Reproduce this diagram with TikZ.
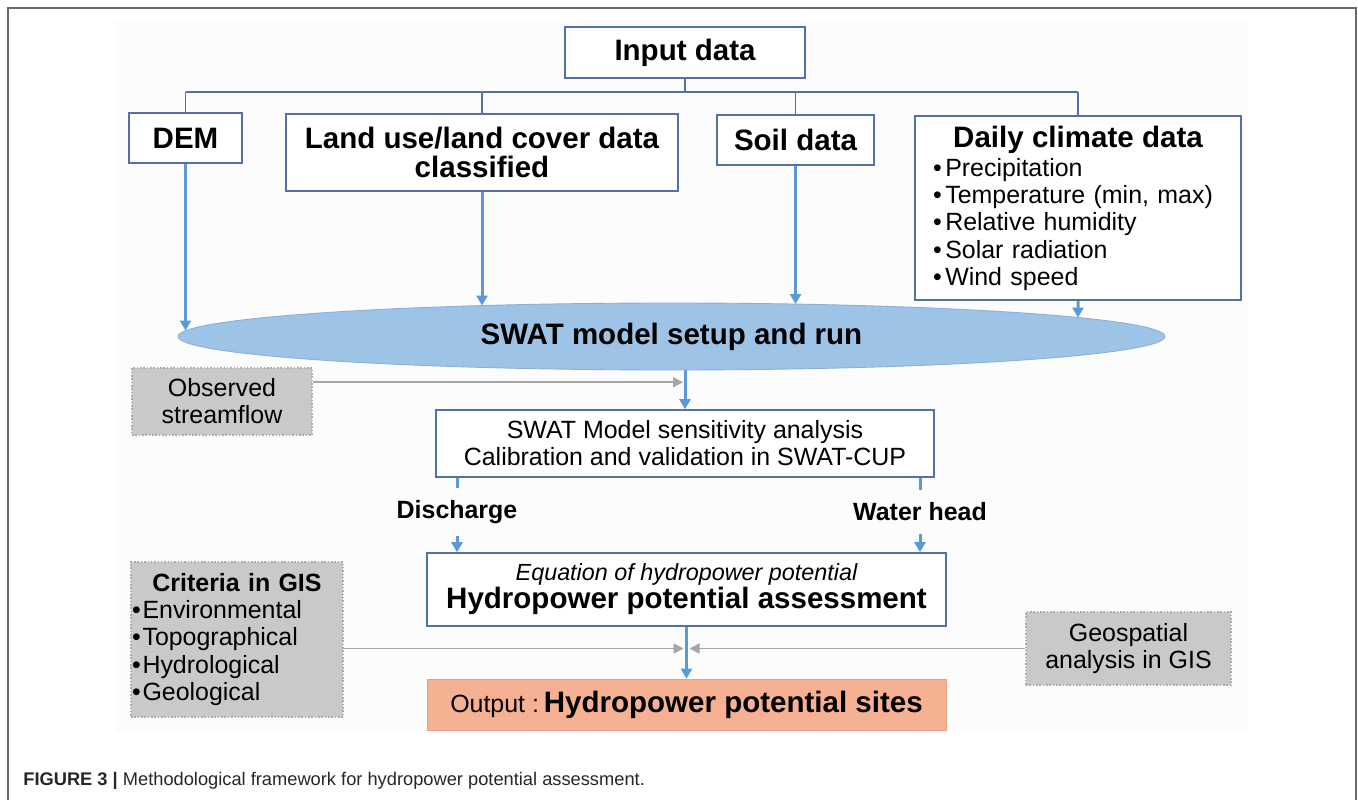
\documentclass[tikz,border=0pt]{standalone}
\usepackage{fontspec}
\setmainfont{Liberation Sans}
\usetikzlibrary{shapes.geometric, arrows.meta, positioning, calc}
\definecolor{boxline}{RGB}{84,112,170}
\definecolor{flowblue}{RGB}{91,155,213}
\definecolor{swatfill}{RGB}{157,195,230}
\definecolor{swatedge}{RGB}{138,176,218}
\definecolor{grayfill}{RGB}{201,201,201}
\definecolor{grayedge}{RGB}{172,172,172}
\definecolor{feedgray}{RGB}{165,165,165}
\definecolor{outfill}{RGB}{246,176,146}
\definecolor{framegray}{RGB}{105,105,105}

\newcommand{\headsize}{\fontsize{16.8}{16}\selectfont}
\newcommand{\bodysize}{\fontsize{14.2}{15.4}\selectfont}

\tikzset{
  inbox/.style={draw=boxline, line width=0.9pt, fill=white, inner sep=0pt, align=center, font=\headsize\bfseries},
  graybox/.style={draw=grayedge, densely dotted, line width=0.9pt, fill=grayfill, inner sep=0pt, align=center, font=\bodysize},
  bus/.style={draw=boxline, line width=0.9pt},
  flow/.style={draw=flowblue, line width=1.7pt, -{Triangle[width=0.22cm, length=0.2cm]}},
  feed/.style={draw=feedgray, line width=0.9pt, -{Triangle[width=0.2cm, length=0.2cm]}},
  stub/.style={draw=flowblue, line width=1.7pt},
  outlabel/.style={font=\bodysize\bfseries, inner xsep=2pt, inner ysep=0.24cm},
}

\begin{document}
\begin{tikzpicture}[x=0.02cm, y=-0.02cm]
  \useasboundingbox (0,0) rectangle (1358,800);
  % Frame
  \fill[black!1] (115,20) rectangle (1248,733);
  \draw[framegray, line width=1.1pt] (8,800) -- (8,8) -- (1356,8) -- (1356,800);

  % Input data
  \node[inbox, minimum width=4.8cm, minimum height=1.02cm] (input) at (685,52.5) {Input data};
  \node[inbox, minimum width=2.26cm, minimum height=1cm] (dem) at (185.5,138) {DEM};
  \node[inbox, minimum width=7.84cm, minimum height=1.54cm] (land) at (482,152.5) {Land use/land cover data\\classified};
  \node[inbox, minimum width=3.14cm, minimum height=1cm] (soil) at (795.5,140) {Soil data};
  \node[inbox, minimum width=6.52cm, minimum height=3.68cm, align=left, text width=5.8cm, font=\bodysize] (climate) at (1078,208) {
    \makebox[5.8cm][c]{\headsize\bfseries Daily climate data}\\[1.5pt]
    \textbullet\kern2pt Precipitation\\
    \textbullet\kern2pt Temperature (min, max)\\
    \textbullet\kern2pt Relative humidity\\
    \textbullet\kern2pt Solar radiation\\
    \textbullet\kern2pt Wind speed
  };

  % Model
  \node[ellipse, draw=swatedge, line width=0.5pt, fill=swatfill, minimum width=19.74cm, minimum height=1.34cm, inner sep=0pt, font=\headsize\bfseries] (swat) at (671.5,336.5) {SWAT model setup and run};
  \node[graybox, minimum width=3.6cm, minimum height=1.34cm] (obs) at (222,401.5) {Observed\\streamflow};
  \node[inbox, font=\bodysize, minimum width=9.96cm, minimum height=1.34cm] (sens) at (685,443.5) {SWAT Model sensitivity analysis\\Calibration and validation in SWAT-CUP};
  \node[outlabel] (dis) at (457,512) {Discharge};
  \node[outlabel] (head) at (920,512) {Water head};

  % Assessment
  \node[inbox, minimum width=10.38cm, minimum height=1.46cm] (hydro) at (686.5,589.5) {{\fontsize{13.3}{14}\selectfont\mdseries\itshape Equation of hydropower potential}\\Hydropower potential assessment};
  \node[graybox, minimum width=4.24cm, minimum height=3.1cm, align=left, text width=4.2cm] (crit) at (237,639.5) {
    \makebox[4.2cm][c]{\bfseries Criteria in GIS}\\
    \textbullet\kern1pt Environmental\\
    \textbullet\kern1pt Topographical\\
    \textbullet\kern1pt Hydrological\\
    \textbullet\kern1pt Geological
  };
  \node[graybox, minimum width=4.1cm, minimum height=1.46cm] (geo) at (1128.5,648.5) {Geospatial\\analysis in GIS};
  \node[draw=outfill!92!black, line width=0.4pt, fill=outfill, minimum width=10.38cm, minimum height=1.02cm, inner sep=0pt] (out) at (686.5,704.5) {{\bodysize Output :}\ {\headsize\bfseries Hydropower potential sites}};

  % Caption
  \node[anchor=west, inner sep=0pt, font=\fontsize{10.4}{12}\selectfont, text=black!85] (caption) at (23,781) {\textbf{FIGURE 3 |} Methodological framework for hydropower potential assessment.};

  % Bus from input data
  \coordinate (busy) at (685,92);
  \draw[bus] (input.south) -- (input.south |- busy);
  \draw[bus] (dem.north |- busy) -- (climate.north |- busy);
  \foreach \n in {dem, land, soil, climate}
    \draw[bus] (\n.north |- busy) -- (\n.north);

  % Rim of the model ellipse
  \coordinate (rimdem) at ($(swat.center)+(-486,-6)$);
  \coordinate (rimland) at ($(swat.center)+(-189.5,-31)$);
  \coordinate (rimsoil) at ($(swat.center)+(124,-32.5)$);
  \coordinate (rimclim) at ($(swat.center)+(406.5,-19)$);
  \draw[flow] (dem.south) -- (rimdem);
  \draw[flow] (land.south) -- (rimland);
  \draw[flow] (soil.south) -- (rimsoil);
  \draw[flow] (climate.south) -- (rimclim);

  % Calibration
  \draw[flow] (sens.north |- swat.south) -- (sens.north);
  \coordinate (obsin) at ($(sens.north)+(-2,-27)$);
  \draw[feed] (obs.east |- obsin) -- (obsin);
  \draw[stub] (dis.north |- sens.south) -- (dis.north);
  \draw[stub] (head.north |- sens.south) -- (head.north);
  \draw[flow] (dis.south) -- (dis.south |- hydro.north);
  \draw[flow] (head.south) -- (head.south |- hydro.north);

  % Output
  \draw[flow] (hydro.south) -- (out.north);
  \draw[feed] (crit.east |- geo.west) -- ($(hydro.south |- geo.west)+(-3,0)$);
  \draw[feed] (geo.west) -- ($(hydro.south |- geo.west)+(3,0)$);
\end{tikzpicture}
\end{document}
